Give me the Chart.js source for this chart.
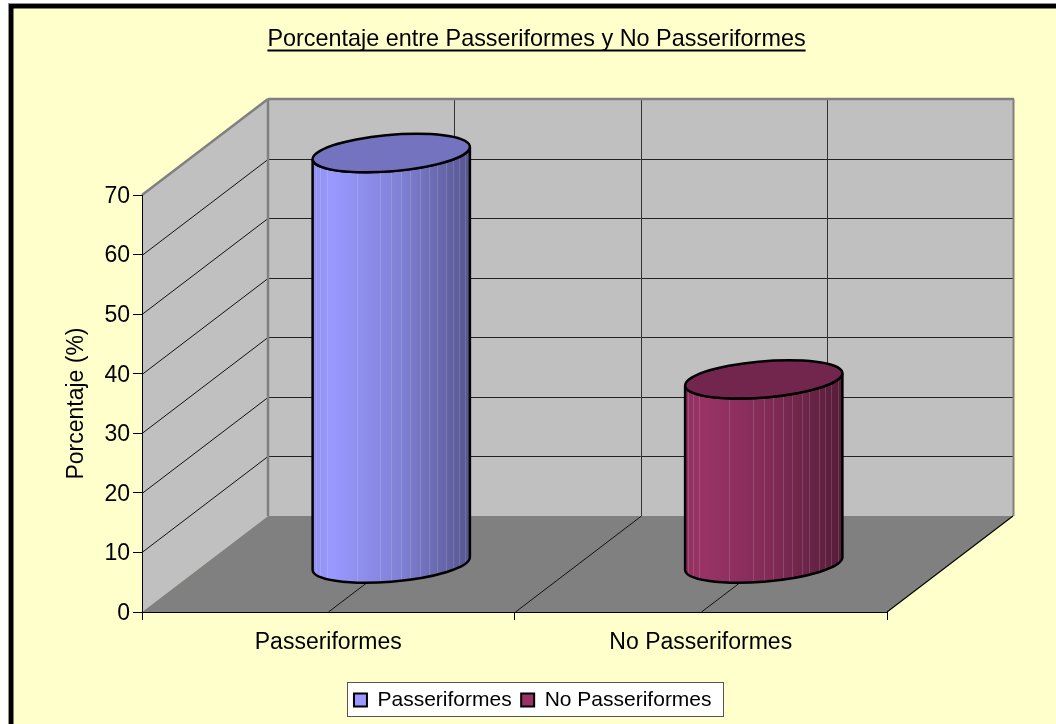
<!DOCTYPE html>
<html>
<head>
<meta charset="utf-8">
<title>Porcentaje entre Passeriformes y No Passeriformes</title>
<script src="https://cdn.jsdelivr.net/npm/chart.js@4"></script>
<style>
    html, body { margin: 0; padding: 0; background: #fff; overflow: hidden; }
    canvas { display: block; }
</style>
</head>
<body>
<canvas id="chart" width="1056" height="724"></canvas>
<script>
const categories = ['Passeriformes', 'No Passeriformes'];
const seriesNames = ['Passeriformes', 'No Passeriformes'];
const passeriformesValues = [69, null];
const noPasseriformesValues = [null, 31];
const yTicks = [0, 10, 20, 30, 40, 50, 60, 70];
const seriesColors = ['#9999FF', '#993366'];
const topColors = ['#7373BF', '#73264D'];

// depth of the fake 3D box, in pixels
const depthX = 126;
const depthY = -96;
const wallColor = '#C0C0C0';
const floorColor = '#808080';
const paperColor = '#FFFFCC';
const fontName = '"Liberation Sans", Arial, sans-serif';
const titleSize = 23.4;
// light seams between the facets of the cylinder, as a share of its width
const seams = [0.02, 0.05, 0.09, 0.28, 0.43, 0.50, 0.56, 0.62, 0.68, 0.74, 0.79, 0.85, 0.89, 0.93, 0.97];

function shade(hex, k) {
    const n = parseInt(hex.slice(1), 16);
    const r = Math.round(((n >> 16) & 255) * k);
    const g = Math.round(((n >> 8) & 255) * k);
    const b = Math.round((n & 255) * k);
    return `rgb(${r},${g},${b})`;
}

function polygon(ctx, points, fill) {
    ctx.beginPath();
    points.forEach((p, i) => (i ? ctx.lineTo(p[0], p[1]) : ctx.moveTo(p[0], p[1])));
    ctx.closePath();
    ctx.fillStyle = fill;
    ctx.fill();
}

function line(ctx, x1, y1, x2, y2, color, width) {
    ctx.beginPath();
    ctx.moveTo(x1, y1);
    ctx.lineTo(x2, y2);
    ctx.strokeStyle = color;
    ctx.lineWidth = width;
    ctx.stroke();
}

function drawPaper(ctx, chart) {
    ctx.fillStyle = '#fff';
    ctx.fillRect(0, 0, chart.width, chart.height);
    ctx.fillStyle = '#909090';
    ctx.fillRect(8, 3, chart.width, chart.height);
    ctx.fillStyle = '#000';
    ctx.fillRect(9, 4, chart.width, chart.height);
    ctx.fillStyle = paperColor;
    ctx.fillRect(13.5, 8.5, chart.width, chart.height);

    // legend box
    ctx.fillStyle = '#fff';
    ctx.fillRect(347.5, 682.5, 376, 34);
    ctx.strokeStyle = '#555';
    ctx.lineWidth = 1;
    ctx.strokeRect(347.5, 682.5, 376, 34);
}

function drawBox(ctx, chart) {
    const x = chart.scales.x;
    const y = chart.scales.y;
    const left = x.left, right = x.right;
    const zero = y.getPixelForValue(0);
    const top = y.getPixelForValue(yTicks[yTicks.length - 1]);

    polygon(ctx, [[left, zero], [left, top], [left + depthX, top + depthY], [left + depthX, zero + depthY]], wallColor);
    polygon(ctx, [[left + depthX, zero + depthY], [left + depthX, top + depthY], [right + depthX, top + depthY], [right + depthX, zero + depthY]], wallColor);
    polygon(ctx, [[left, zero], [left + depthX, zero + depthY], [right + depthX, zero + depthY], [right, zero]], floorColor);

    // value lines on the back and left walls
    yTicks.forEach(v => {
        if (v === 0 || v === yTicks[yTicks.length - 1]) return;
        const py = Math.round(y.getPixelForValue(v)) + 0.5;
        line(ctx, left, py, left + depthX, py + depthY, '#111', 1);
        line(ctx, left + depthX, py + depthY, right + depthX, py + depthY, '#222', 1);
    });

    // category lines on the floor and the back wall
    const center0 = x.getPixelForValue(0);
    const center1 = x.getPixelForValue(1);
    [center0, (center0 + center1) / 2, center1].forEach(px => {
        const qx = Math.round(px) + 0.5;
        line(ctx, qx, zero, qx + depthX, zero + depthY, '#111', 1);
        line(ctx, qx + depthX, zero + depthY, qx + depthX, top + depthY, '#333', 1);
    });

    // box edges
    line(ctx, left, top, left + depthX, top + depthY, floorColor, 2.5);
    line(ctx, left + depthX, top + depthY, right + depthX + 1, top + depthY, floorColor, 2.5);
    line(ctx, left + depthX, top + depthY, left + depthX, zero + depthY, floorColor, 2.5);
    line(ctx, right + depthX + 0.5, top + depthY, right + depthX + 0.5, zero + depthY, floorColor, 2);
    line(ctx, right, zero, right + depthX, zero + depthY, '#000', 1.2);
}

// the bar element gives the position, height and width of each cylinder
function drawCylinder(ctx, bar, datasetIndex) {
    const ux = bar.width / 2;
    const vx = depthX * 0.2;
    const vy = depthY * 0.2;
    const cx = bar.x + depthX / 2;
    const topY = bar.y + depthY / 2;
    const baseY = bar.base + depthY / 2;
    const t0 = Math.atan2(vx, ux);
    const halfW = Math.hypot(ux, vx);
    const color = seriesColors[datasetIndex];

    const bodyPath = () => {
        ctx.beginPath();
        ctx.save();
        ctx.transform(ux, 0, vx, vy, cx, baseY);
        ctx.arc(0, 0, 1, t0, t0 - Math.PI, true);
        ctx.restore();
        ctx.save();
        ctx.transform(ux, 0, vx, vy, cx, topY);
        ctx.arc(0, 0, 1, t0 - Math.PI, t0, false);
        ctx.restore();
        ctx.closePath();
    };

    const grad = ctx.createLinearGradient(cx - halfW, 0, cx + halfW, 0);
    grad.addColorStop(0, shade(color, 0.94));
    grad.addColorStop(0.12, shade(color, 1));
    grad.addColorStop(0.55, shade(color, 0.84));
    grad.addColorStop(1, shade(color, 0.56));

    ctx.save();
    bodyPath();
    ctx.fillStyle = grad;
    ctx.fill();
    ctx.clip();
    seams.forEach(s => {
        const sx = Math.round(cx - halfW + s * 2 * halfW) + 0.5;
        line(ctx, sx, topY - 40, sx, baseY + 40, 'rgba(255,255,255,0.14)', 1);
    });
    ctx.restore();

    bodyPath();
    ctx.strokeStyle = '#000';
    ctx.lineWidth = 2.5;
    ctx.stroke();

    ctx.beginPath();
    ctx.save();
    ctx.transform(ux, 0, vx, vy, cx, topY);
    ctx.arc(0, 0, 1, 0, Math.PI * 2);
    ctx.restore();
    ctx.closePath();
    ctx.fillStyle = topColors[datasetIndex];
    ctx.fill();
    ctx.lineWidth = 2.5;
    ctx.strokeStyle = '#000';
    ctx.stroke();
}

const box3dPlugin = {
    id: 'box3d',
    afterLayout(chart) {
        // title and legend are centred on the whole picture, not the axes
        chart.titleBlock.left = 17;
        chart.titleBlock.right = 1056;
        chart.legend.left = 178.5;
        chart.legend.right = 887;
        chart.legend.top = 680;
        chart.legend.bottom = 724;
    },
    beforeDraw(chart) {
        const ctx = chart.ctx;
        ctx.save();
        drawPaper(ctx, chart);
        drawBox(ctx, chart);
        ctx.restore();
    },
    beforeDatasetDraw(chart, args) {
        const ctx = chart.ctx;
        const data = chart.data.datasets[args.index].data;
        ctx.save();
        args.meta.data.forEach((bar, i) => {
            if (data[i] !== null) drawCylinder(ctx, bar, args.index);
        });
        ctx.restore();
        return false;
    },
    afterDraw(chart) {
        // Chart.js titles have no underline
        const ctx = chart.ctx;
        const t = chart.titleBlock;
        const text = chart.options.plugins.title.text;
        ctx.save();
        ctx.font = `${titleSize}px ${fontName}`;
        const w = ctx.measureText(text).width;
        const mid = (t.left + t.right) / 2;
        ctx.fillStyle = '#000';
        ctx.fillRect(mid - w / 2, 49.5, w, 2);
        ctx.restore();
    }
};

new Chart(document.getElementById('chart').getContext('2d'), {
    type: 'bar',
    data: {
        labels: categories,
        datasets: [
            { label: seriesNames[0], data: passeriformesValues, backgroundColor: seriesColors[0], borderColor: '#000', borderWidth: 2 },
            { label: seriesNames[1], data: noPasseriformesValues, backgroundColor: seriesColors[1], borderColor: '#000', borderWidth: 2 }
        ]
    },
    options: {
        responsive: false,
        animation: false,
        grouped: false,
        barPercentage: 0.4,
        categoryPercentage: 1,
        layout: { padding: { left: 0, right: 169, top: 0, bottom: 26.5 } },
        plugins: {
            title: {
                display: true,
                text: 'Porcentaje entre Passeriformes y No Passeriformes',
                color: '#000',
                font: { family: fontName, size: titleSize, weight: 'normal', lineHeight: 1.2 },
                padding: { top: 25.5, bottom: 141.5 }
            },
            legend: {
                position: 'bottom',
                labels: {
                    color: '#000',
                    font: { family: fontName, size: 21 },
                    boxWidth: 13,
                    boxHeight: 13,
                    padding: 9.5
                }
            },
            tooltip: { enabled: false }
        },
        scales: {
            x: {
                offset: true,
                afterFit: scale => { scale.height = 45; },
                grid: { offset: true, drawOnChartArea: false, color: '#000', tickLength: 8 },
                border: { color: '#000', width: 1 },
                ticks: { color: '#000', padding: 9, maxRotation: 0, font: { family: fontName, size: 23 } }
            },
            y: {
                min: yTicks[0],
                max: yTicks[yTicks.length - 1],
                afterBuildTicks: scale => { scale.ticks = yTicks.map(v => ({ value: v })); },
                afterFit: scale => { scale.width = 142; },
                grid: { drawOnChartArea: false, color: '#000', tickLength: 9 },
                border: { color: '#000', width: 1 },
                ticks: { color: '#000', padding: 3, labelOffset: 1.5, font: { family: fontName, size: 23 } },
                title: {
                    display: true,
                    text: 'Porcentaje (%)',
                    color: '#000',
                    font: { family: fontName, size: 23, lineHeight: 1.2 },
                    padding: { top: 63, bottom: 0 }
                }
            }
        }
    },
    plugins: [box3dPlugin]
});
</script>
</body>
</html>
